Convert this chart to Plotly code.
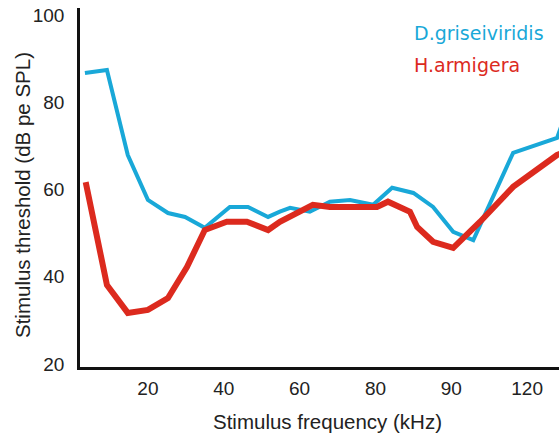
import plotly.graph_objects as go

# Frequency positions (kHz, on the plotted scale) and thresholds (dB pe SPL)
blue_x = [3.4, 9.2, 14.7, 20.0, 25.3, 29.8, 35.0, 41.6, 46.4, 51.7, 54.8, 57.5, 62.7, 68.0, 73.3, 79.4, 84.4, 90.0, 95.2, 100.5, 105.8, 116.3, 127.9, 130.0]
blue_y = [86.7, 87.4, 67.9, 57.6, 54.6, 53.7, 51.2, 56.0, 56.0, 53.7, 54.9, 55.8, 54.9, 57.2, 57.6, 56.5, 60.4, 59.2, 56.0, 50.3, 48.4, 68.4, 71.8, 77.0]

red_x = [3.6, 9.2, 14.7, 20.0, 25.3, 30.3, 35.0, 40.8, 46.1, 51.7, 54.8, 63.5, 68.0, 74.1, 80.4, 83.3, 89.1, 91.0, 95.2, 100.5, 107.6, 116.3, 127.9, 131.0]
red_y = [61.7, 38.1, 31.7, 32.4, 35.1, 42.2, 50.7, 52.6, 52.6, 50.7, 52.6, 56.5, 56.0, 56.0, 56.0, 57.2, 54.9, 51.4, 48.0, 46.6, 52.6, 60.6, 67.9, 69.0]

tick_vals = [20, 40, 60, 80, 100, 120]
tick_text = ["20", "40", "60", "80", "90", "120"]
y_ticks = [20, 40, 60, 80, 100]

BLUE = "#19a8d8"
RED = "#dc2a1e"
FONT = "Liberation Sans, Arial, sans-serif"

W, H = 559, 434
L, R, T, B = 80, 0, 8, 434 - 367
pw, ph = W - L - R, H - T - B


def px(x, y):
    """window pixel -> paper coordinates"""
    return (x - L) / pw, 1 - (y - T) / ph


fig = go.Figure()
fig.add_trace(go.Scatter(x=blue_x, y=blue_y, mode="lines",
                         line=dict(color=BLUE, width=4), name="D.griseiviridis"))
fig.add_trace(go.Scatter(x=red_x, y=red_y, mode="lines",
                         line=dict(color=RED, width=6), name="H.armigera"))

for txt, col, yy in [("D.griseiviridis", BLUE, 33), ("H.armigera", RED, 65)]:
    ax, ay = px(412, yy)
    fig.add_annotation(x=ax, y=ay, xref="paper", yref="paper", text=txt,
                       showarrow=False, xanchor="left", yanchor="middle",
                       font=dict(family="DejaVu Sans, sans-serif", size=19, color=col))

ax, ay = px(327, 421)
fig.add_annotation(x=ax, y=ay, xref="paper", yref="paper",
                   text="Stimulus frequency (kHz)", showarrow=False,
                   xanchor="center", yanchor="middle",
                   font=dict(family=FONT, size=20.5, color="#222222"))
ax, ay = px(22, 195)
fig.add_annotation(x=ax, y=ay, xref="paper", yref="paper",
                   text="Stimulus threshold (dB pe SPL)", showarrow=False, textangle=-90,
                   xanchor="center", yanchor="middle",
                   font=dict(family=FONT, size=20.5, color="#222222"))

fig.update_layout(
    width=W, height=H,
    margin=dict(l=L, r=R, t=T, b=B, autoexpand=False),
    plot_bgcolor="white", paper_bgcolor="white",
    showlegend=False,
    font=dict(family=FONT, size=19, color="#222222"),
    xaxis=dict(range=[2.1, 128.4], tickvals=tick_vals, ticktext=tick_text,
               showgrid=False, zeroline=False, showline=True, linecolor="#111111",
               linewidth=2.5, ticks="outside", ticklen=2, tickcolor="rgba(0,0,0,0)",
               automargin=False, ticklabeloverflow="allow"),
    yaxis=dict(range=[19.3, 101.6], tickvals=y_ticks,
               showgrid=False, zeroline=False, showline=True, linecolor="#111111",
               linewidth=2.5, ticks="outside", ticklen=9, tickcolor="rgba(0,0,0,0)",
               automargin=False, ticklabeloverflow="allow"),
)

fig.write_html("out.html", config={"displayModeBar": False},
               post_script="document.body.style.margin='0px';")
